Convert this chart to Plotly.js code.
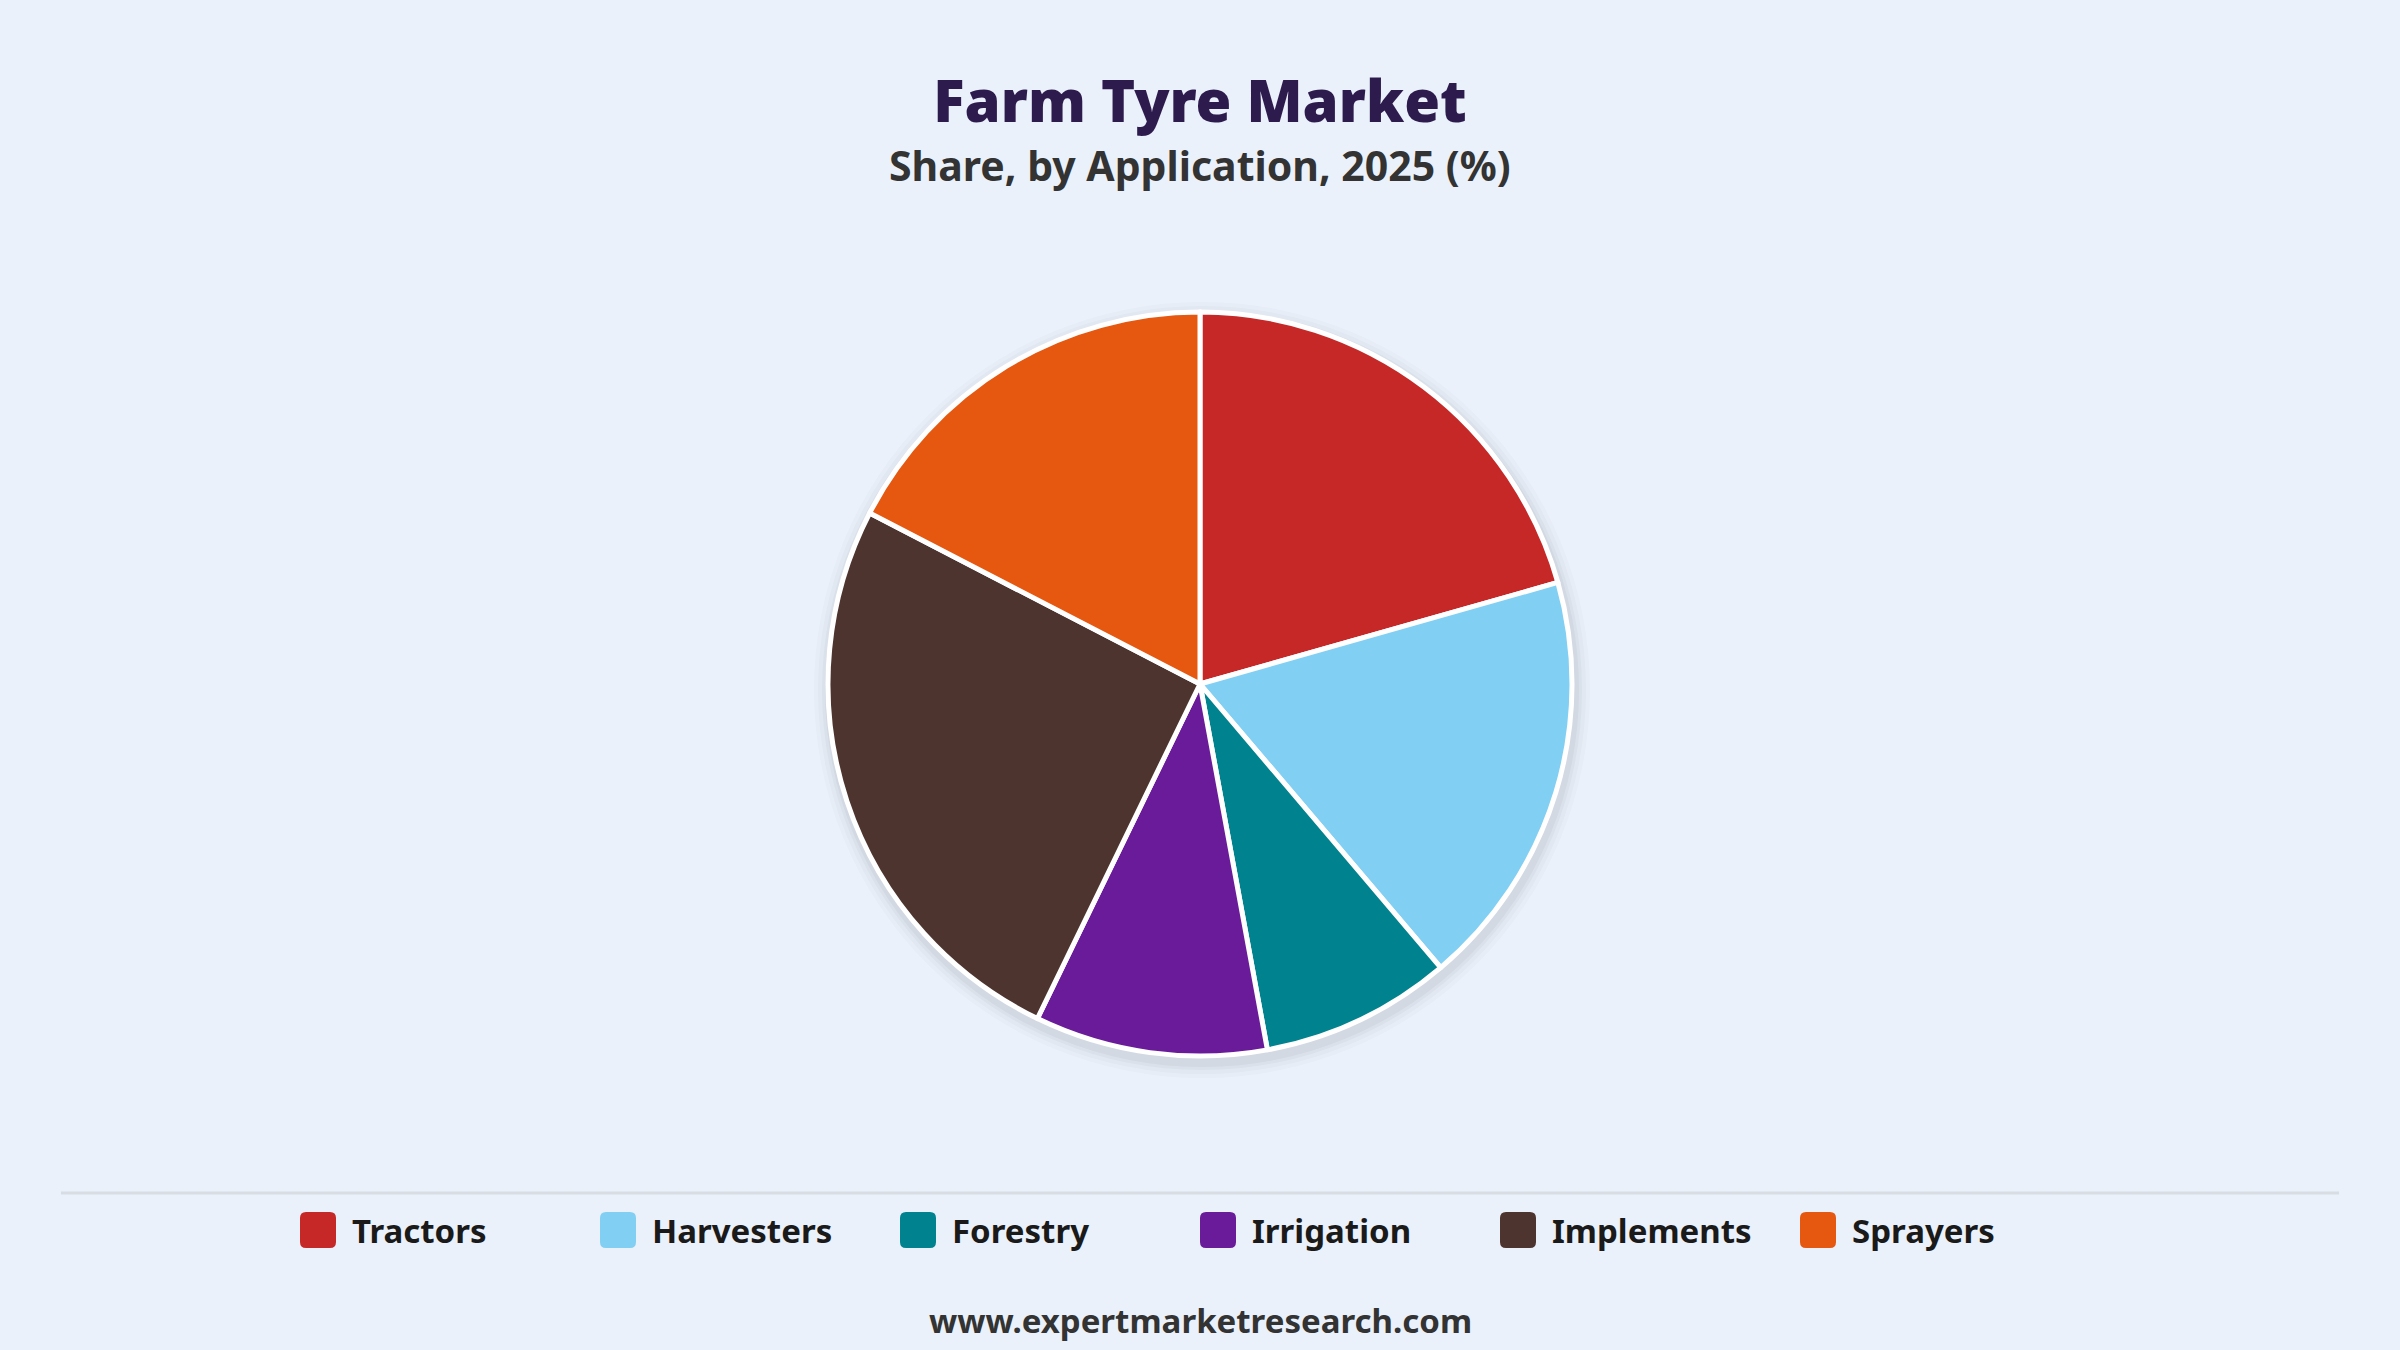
<!DOCTYPE html>
<html>
<head>
<meta charset="utf-8">
<script src="https://cdn.plot.ly/plotly-3.0.1.min.js"></script>
<style>
  html, body { margin: 0; padding: 0; background: #EAF1FA; }
  #plot { width: 2400px; height: 1350px; }
</style>
</head>
<body>
<div id="plot"></div>
<script>
// data (share %, 2025)
const categories = ['Tractors', 'Harvesters', 'Forestry', 'Irrigation', 'Implements', 'Sprayers']
const shares = [20.6, 18.2, 8.3, 10.1, 25.4, 17.4]
const colors = ['#C62828', '#81CFF3', '#00838F', '#6A1B9A', '#4E342E', '#E65710']

const W = 2400, H = 1350
const bg = '#EAF1FA'
const font = 'Noto Sans, Open Sans, sans-serif'

// pixel -> paper helpers (margins are zero so paper == page)
function px(x) { return x / W }
function py(y) { return 1 - y / H }

function roundRect(x, y, w, h, r)
{
    return 'M' + px(x + r) + ',' + py(y) +
        ' L' + px(x + w - r) + ',' + py(y) +
        ' Q' + px(x + w) + ',' + py(y) + ' ' + px(x + w) + ',' + py(y + r) +
        ' L' + px(x + w) + ',' + py(y + h - r) +
        ' Q' + px(x + w) + ',' + py(y + h) + ' ' + px(x + w - r) + ',' + py(y + h) +
        ' L' + px(x + r) + ',' + py(y + h) +
        ' Q' + px(x) + ',' + py(y + h) + ' ' + px(x) + ',' + py(y + h - r) +
        ' L' + px(x) + ',' + py(y + r) +
        ' Q' + px(x) + ',' + py(y) + ' ' + px(x + r) + ',' + py(y) + ' Z'
}

const cx = 1200, cy = 684, r = 372

const trace = {
    type: 'pie',
    labels: categories,
    values: shares,
    sort: false,
    direction: 'clockwise',
    rotation: 0,
    textinfo: 'none',
    hoverinfo: 'label+percent',
    marker: { colors: colors, line: { color: '#FFFFFF', width: 5 } },
    domain: { x: [0.2, 0.8], y: [py(cy + r), py(cy - r)] },
    showlegend: false
}

var shapes = []
// soft shadow under the pie
const shadowSteps = [[16, 0.018], [12, 0.025], [8, 0.035], [5, 0.045]]
shadowSteps.forEach(function (s) {
    var rr = r + s[0]
    shapes.push({
        type: 'circle', xref: 'paper', yref: 'paper', layer: 'below',
        x0: px(cx - rr + 2), x1: px(cx + rr + 2),
        y0: py(cy + rr + 6), y1: py(cy - rr + 6),
        fillcolor: 'rgba(40,50,70,' + s[1] + ')', line: { width: 0 }
    })
})

// divider above the legend
shapes.push({
    type: 'line', xref: 'paper', yref: 'paper',
    x0: px(61), x1: px(2339), y0: py(1193), y1: py(1193),
    line: { color: '#D8DDE3', width: 3 }
})

var annotations = [
    {
        text: 'Share, by Application, 2025 (%)',
        xref: 'paper', yref: 'paper', x: 0.5, y: py(165),
        xanchor: 'center', yanchor: 'middle', showarrow: false,
        font: { family: font, size: 41, color: '#333333', weight: 'bold' }
    },
    {
        text: 'www.expertmarketresearch.com',
        xref: 'paper', yref: 'paper', x: 0.5, y: py(1320),
        xanchor: 'center', yanchor: 'middle', showarrow: false,
        font: { family: font, size: 33, color: '#333333', weight: 'bold' }
    }
]

// custom legend: rounded swatches every 300px
categories.forEach(function (name, i) {
    var left = 300 + 300 * i
    shapes.push({
        type: 'path', xref: 'paper', yref: 'paper',
        path: roundRect(left, 1212, 36, 36, 6),
        fillcolor: colors[i], line: { width: 0 }
    })
    annotations.push({
        text: name,
        xref: 'paper', yref: 'paper', x: px(left + 50), y: py(1230),
        xanchor: 'left', yanchor: 'middle', showarrow: false,
        font: { family: font, size: 33, color: '#1A1A1A', weight: 'bold' }
    })
})

const layout = {
    width: W,
    height: H,
    paper_bgcolor: bg,
    plot_bgcolor: bg,
    margin: { l: 0, r: 0, t: 0, b: 0 },
    title: {
        text: 'Farm Tyre Market',
        x: 0.5, xanchor: 'center',
        y: py(102), yanchor: 'middle',
        font: { family: font, size: 58, color: '#2D1B4E', weight: 900 }
    },
    shapes: shapes,
    annotations: annotations
}

Plotly.newPlot('plot', [trace], layout, { staticPlot: true })
</script>
</body>
</html>
